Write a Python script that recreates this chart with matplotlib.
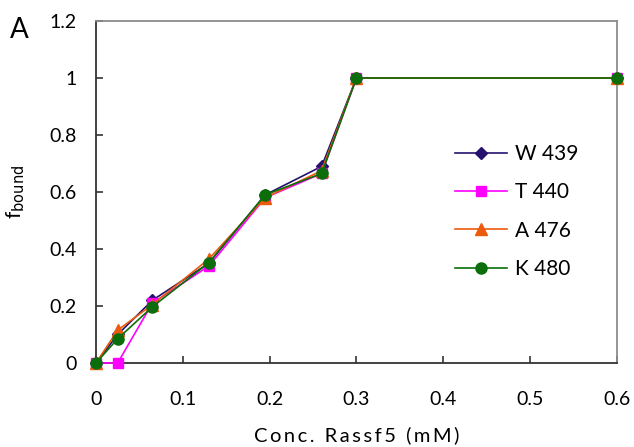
import matplotlib.pyplot as plt
from matplotlib.ticker import FuncFormatter

plt.rcParams['font.family'] = ['Lato', 'DejaVu Sans']

conc = [0, 0.025, 0.065, 0.13, 0.195, 0.26, 0.3, 0.6]
w439 = [0, 0.10, 0.22, 0.35, 0.59, 0.69, 1.0, 1.0]
t440 = [0, 0.0, 0.21, 0.34, 0.58, 0.665, 1.0, 1.0]
a476 = [0, 0.115, 0.205, 0.365, 0.58, 0.675, 1.0, 1.0]
k480 = [0, 0.085, 0.197, 0.352, 0.59, 0.665, 1.0, 1.0]

fig = plt.figure(figsize=(6.34, 4.47), dpi=100)
ax = fig.add_axes([0.1514, 0.188, 0.8216, 0.765])

ax.plot(conc, w439, color='#26126e', marker='D', ms=6.5, lw=1.2, label='W 439', clip_on=False, zorder=3)
ax.plot(conc, t440, color='#ff00ff', marker='s', ms=6.5, lw=1.2, label='T 440', clip_on=False, zorder=3)
ax.plot(conc, a476, color='#ec5a0c', marker='^', ms=8, lw=1.2, label='A 476', clip_on=False, zorder=3)
ax.plot(conc, k480, color='#0b6e0b', marker='o', ms=8, lw=1.2, label='K 480', clip_on=False, zorder=3)

ax.set_xlim(0, 0.6)
ax.set_ylim(0, 1.2)
ax.set_xticks([0, 0.1, 0.2, 0.3, 0.4, 0.5, 0.6])
ax.set_yticks([0, 0.2, 0.4, 0.6, 0.8, 1.0, 1.2])
fmt = FuncFormatter(lambda v, p: '%g' % round(v, 2))
ax.xaxis.set_major_formatter(fmt)
ax.yaxis.set_major_formatter(fmt)
ax.tick_params(direction='in', length=5, width=1.2, labelsize=14, color='#333333')
ax.tick_params(axis='x', pad=20)
ax.tick_params(axis='y', pad=14)

for s in ['left', 'bottom']:
    ax.spines[s].set_color('#333333')
    ax.spines[s].set_linewidth(1.3)
for s in ['top', 'right']:
    ax.spines[s].set_color('#8c8c8c')
    ax.spines[s].set_linewidth(1.3)

xlab = '\u2009'.join('Conc. Rassf5 (mM)')
ax.set_xlabel(xlab, fontsize=14.5, labelpad=13)
ax.set_ylabel(r'f$_{\mathrm{bound}}$', fontsize=15, labelpad=16)

ax.legend(loc='upper left', bbox_to_anchor=(0.674, 0.665), frameon=False, fontsize=15,
          handlelength=2.5, labelspacing=0.88, handletextpad=0.35, borderaxespad=0)

fig.text(0.015, 0.915, 'A', fontsize=20)

fig.savefig('out.png', dpi=100)
